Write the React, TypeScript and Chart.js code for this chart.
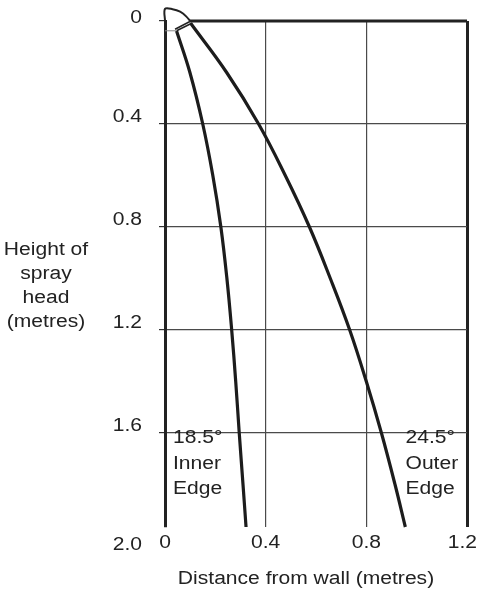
import React, { useEffect, useRef } from 'react';
import { Chart, registerables } from 'chart.js';

Chart.register(...registerables);

// ---- data ----
const xTicks = [0, 0.4, 0.8, 1.2];
const xTickLabels = ['0', '0.4', '0.8', '1.2'];
const yTicks = [0, 0.4, 0.8, 1.2, 1.6];
const yLabelValues = [0, 0.4, 0.8, 1.2, 1.6, 2.0];
const yTickLabels = ['0', '0.4', '0.8', '1.2', '1.6', '2.0'];
const Y_MAX = 1.965;

const xTitle = 'Distance from wall (metres)';
const yTitleLines = ['Height of', 'spray', 'head', '(metres)'];
const innerLabel = ['18.5°', 'Inner', 'Edge'];
const outerLabel = ['24.5°', 'Outer', 'Edge'];

const innerX = [0.046, 0.099, 0.150, 0.190, 0.222, 0.246, 0.265, 0.281, 0.295, 0.310, 0.322];
const innerY = [0.039, 0.2, 0.4, 0.6, 0.8, 1.0, 1.2, 1.4, 1.6, 1.8, 1.965];
const outerX = [0.102, 0.245, 0.372, 0.478, 0.574, 0.657, 0.734, 0.80, 0.86, 0.914, 0.955];
const outerY = [0.009, 0.2, 0.4, 0.6, 0.8, 1.0, 1.2, 1.4, 1.6, 1.8, 1.965];

const capX = [0, 0, 0.03, 0.06, 0.085, 0.102];
const capY = [0, -0.047, -0.046, -0.036, -0.017, 0.003];
const ceilingX = [0.1, 1.2];
const ceilingY = [0, 0];
const pipeX = [0, 0.046];
const pipeY = [0.038, 0.038];
const nozzleUpperX = [0.040, 0.099];
const nozzleUpperY = [0.032, 0.002];
const nozzleLowerX = [0.046, 0.106];
const nozzleLowerY = [0.038, 0.009];

const pts = (xs: number[], ys: number[]) => xs.map((x, i) => ({ x, y: ys[i] }));

// ---- styles ----
const FONT = '18px "Liberation Sans", Arial, Helvetica, sans-serif';
const TEXT_COLOR = '#222';
const STRETCH = 1.17;
const LINE = '#1c1c1c';
const GRID = '#4a4a4a';

function drawText(ctx: CanvasRenderingContext2D, text: string, x: number, y: number, align: CanvasTextAlign) {
  ctx.save();
  ctx.translate(x, y);
  ctx.scale(STRETCH, 1);
  ctx.textAlign = align;
  ctx.fillText(text, 0, 0);
  ctx.restore();
}

const textPlugin = {
  id: 'sprayText',
  afterDraw(chart: any) {
    const ctx: CanvasRenderingContext2D = chart.ctx;
    const xs = chart.scales.x;
    const ys = chart.scales.y;
    ctx.save();
    ctx.font = FONT;
    ctx.fillStyle = TEXT_COLOR;
    ctx.textBaseline = 'middle';
    const last = yLabelValues.length - 1;
    yLabelValues.forEach((v, i) => {
      let py = ys.getPixelForValue(Math.min(v, Y_MAX));
      if (i === 0) py -= 3;
      else if (i === last) py += 18;
      else py -= 7;
      drawText(ctx, yTickLabels[i], 142, py, 'right');
    });
    xTicks.forEach((v, i) => {
      const w = ctx.measureText(xTickLabels[i]).width * STRETCH;
      let px = xs.getPixelForValue(v);
      px = Math.min(px, chart.width - 1 - w / 2);
      drawText(ctx, xTickLabels[i], px, 543, 'center');
    });
    drawText(ctx, xTitle, 306, 579, 'center');
    ctx.textBaseline = 'alphabetic';
    yTitleLines.forEach((t, i) => drawText(ctx, t, 46, 255 + i * 24, 'center'));
    innerLabel.forEach((t, i) => drawText(ctx, t, 173, 443 + i * 25.5, 'left'));
    outerLabel.forEach((t, i) => drawText(ctx, t, 405.5, 443 + i * 25.5, 'left'));
    ctx.restore();
  },
};

const lineDs = (data: any[], width: number, color = LINE, tension = 0.4) => ({
  data,
  showLine: true,
  borderColor: color,
  borderWidth: width,
  pointRadius: 0,
  pointHoverRadius: 0,
  tension,
  fill: false,
  clip: false as any,
});

export default function App() {
  const ref = useRef<HTMLCanvasElement | null>(null);
  useEffect(() => {
    if (!ref.current) return;
    const chart = new Chart(ref.current, {
      type: 'scatter',
      data: {
        datasets: [
          lineDs(pts(innerX, innerY), 3.2),
          lineDs(pts(outerX, outerY), 3.2),
          lineDs(pts(ceilingX, ceilingY), 3, '#222', 0),
          lineDs(pts(capX, capY), 2, '#222', 0.35),
          lineDs(pts(pipeX, pipeY), 1, '#888', 0),
          lineDs(pts(nozzleUpperX, nozzleUpperY), 1.6, '#222', 0),
          lineDs(pts(nozzleLowerX, nozzleLowerY), 1.6, '#222', 0),
        ] as any,
      },
      options: {
        animation: false,
        responsive: false,
        events: [],
        layout: { padding: { left: 0, right: 11, top: 21, bottom: 0 } },
        plugins: { legend: { display: false }, tooltip: { enabled: false }, title: { display: false } },
        scales: {
          x: {
            type: 'linear',
            min: 0,
            max: 1.2,
            afterBuildTicks: (s: any) => { s.ticks = xTicks.map((v) => ({ value: v })); },
            afterFit: (s: any) => { s.height = 65; },
            ticks: { display: false },
            border: { display: false },
            grid: {
              drawTicks: false,
              color: (c: any) => (c.tick && c.tick.value === 0 ? 'rgba(0,0,0,0)' : c.tick && c.tick.value === 1.2 ? '#222' : GRID),
              lineWidth: (c: any) => (c.tick && c.tick.value === 1.2 ? 3 : 1.2),
            },
          },
          y: {
            type: 'linear',
            reverse: true,
            min: 0,
            max: Y_MAX,
            afterBuildTicks: (s: any) => { s.ticks = yTicks.map((v) => ({ value: v })); },
            afterFit: (s: any) => { s.width = 165; },
            ticks: { display: false },
            border: { display: true, color: '#222', width: 3 },
            grid: {
              drawTicks: true,
              tickLength: 6,
              tickColor: '#333',
              tickWidth: 1.2,
              color: (c: any) => (c.tick && c.tick.value === 0 ? 'rgba(0,0,0,0)' : GRID),
              lineWidth: 1.2,
            },
          },
        },
      } as any,
      plugins: [textPlugin as any],
    });
    return () => chart.destroy();
  }, []);
  return (
    <div style={{ position: 'absolute', left: 0, top: 0, width: 478, height: 592 }}>
      <canvas ref={ref} width={478} height={592} style={{ width: 478, height: 592, display: 'block' }} />
    </div>
  );
}
